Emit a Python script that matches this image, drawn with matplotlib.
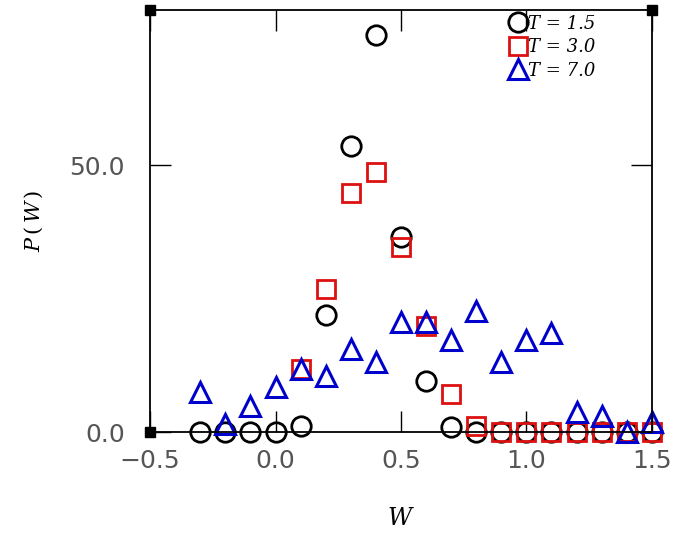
import matplotlib
matplotlib.use('Agg')
import matplotlib.pyplot as plt
import numpy as np

# P(W) distributions at three temperatures
w1 = [-0.3, -0.2, -0.1, 0.0, 0.1, 0.2, 0.3, 0.4, 0.5, 0.6, 0.7, 0.8, 0.9, 1.0, 1.1, 1.2, 1.3, 1.4, 1.5]
p1 = [0.0, 0.0, 0.0, 0.0, 1.1, 21.9, 53.6, 74.3, 36.5, 9.5, 1.0, 0.0, 0.0, 0.0, 0.0, 0.0, 0.0, 0.0, 0.0]

w2 = [0.1, 0.2, 0.3, 0.4, 0.5, 0.6, 0.7, 0.8, 0.9, 1.0, 1.1, 1.2, 1.3, 1.4, 1.5]
p2 = [11.8, 26.8, 44.8, 48.7, 34.6, 19.9, 7.1, 1.1, 0.0, 0.0, 0.0, 0.0, 0.0, 0.0, 0.0]

w3 = [-0.3, -0.2, -0.1, 0.0, 0.1, 0.2, 0.3, 0.4, 0.5, 0.6, 0.7, 0.8, 0.9, 1.0, 1.1, 1.2, 1.3, 1.4, 1.5]
p3 = [7.5, 1.5, 4.9, 8.4, 11.8, 10.5, 15.5, 13.1, 20.6, 20.6, 17.2, 22.7, 13.1, 17.2, 18.5, 3.7, 3.0, 0.0, 1.9]

labels = ['T = 1.5', 'T = 3.0', 'T = 7.0']
xticks = [-0.5, 0.0, 0.5, 1.0, 1.5]
xticklabels = ['\u22120.5', '0.0', '0.5', '1.0', '1.5']
yticks = [0.0, 50.0]
yticklabels = ['0.0', '50.0']

plt.rcParams['mathtext.fontset'] = 'dejavuserif'

fig = plt.figure(figsize=(6.79, 5.37), dpi=100)
ax = fig.add_axes([0.221, 0.1955, 0.739, 0.7855])

ax.plot(w1, p1, 'o', ms=14, mfc='none', mec='k', mew=2.0, label=labels[0], clip_on=False)
ax.plot(w2, p2, 's', ms=13, mfc='none', mec='#dd1111', mew=2.0, label=labels[1], clip_on=False)
ax.plot(w3, p3, '^', ms=15, mfc='none', mec='#0000cc', mew=2.2, label=labels[2], clip_on=False)

# corner markers
ax.plot([-0.5, -0.5, 1.5], [0.0, 79.0, 79.0], 's', ms=7, color='k', clip_on=False)

ax.set_xlim(-0.5, 1.5)
ax.set_ylim(0, 79)
ax.set_xticks(xticks)
ax.set_xticklabels(xticklabels)
ax.set_yticks(yticks)
ax.set_yticklabels(yticklabels)
ax.tick_params(axis='both', which='major', direction='in', length=15, width=1.0,
               top=True, right=True, labelsize=18, labelcolor='#555555')
ax.tick_params(axis='x', pad=12)
ax.tick_params(axis='y', pad=18)
for s in ax.spines.values():
    s.set_linewidth(1.3)

ax.set_xlabel('$W$', fontsize=17, labelpad=24)
ax.set_ylabel('$P\\,(\\,W\\,)$', fontsize=15, labelpad=18)

ax.legend(loc='upper right', frameon=False, handletextpad=0.0,
          borderaxespad=0.2, labelspacing=0.3, handlelength=1.2,
          bbox_to_anchor=(0.91, 1.015),
          prop={'family': 'DejaVu Serif', 'style': 'italic', 'size': 13})

plt.savefig('out.png', dpi=100)
